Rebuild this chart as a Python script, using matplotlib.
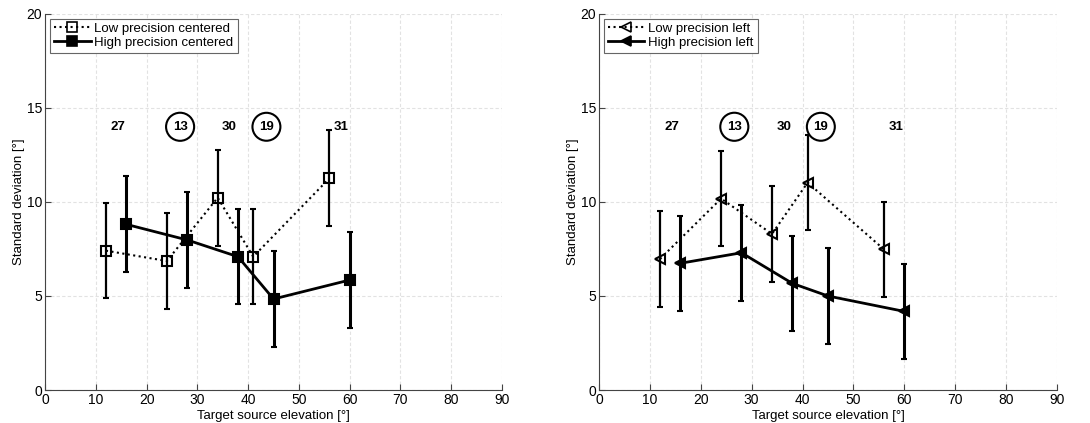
import matplotlib
matplotlib.use("Agg")
import matplotlib.pyplot as p
from matplotlib.lines import Line2D

font = {'size': 9, 'family': ['Liberation Sans', 'DejaVu Sans']}
matplotlib.rc('font', **font)

# elevation positions
low_x = [12, 24, 34, 41, 56]
high_x = [16, 28, 38, 45, 60]

# centered condition
low_c = [7.41, 6.86, 10.23, 7.09, 11.26]
low_c_err = [2.54, 2.55, 2.55, 2.54, 2.55]
high_c = [8.81, 7.98, 7.09, 4.84, 5.85]
high_c_err = [2.55, 2.54, 2.54, 2.54, 2.53]

# left condition
low_l = [6.97, 10.18, 8.30, 11.03, 7.48]
low_l_err = [2.54, 2.54, 2.54, 2.54, 2.53]
high_l = [6.74, 7.30, 5.67, 5.00, 4.18]
high_l_err = [2.54, 2.54, 2.54, 2.54, 2.54]

# subject counts per elevation group
count_x = [14.3, 26.6, 36.3, 43.6, 58.3]
count_labels = ["27", "13", "30", "19", "31"]
count_circled = [False, True, False, True, False]
count_y = 14.0

xticks = [0, 10, 20, 30, 40, 50, 60, 70, 80, 90]
yticks = [0, 5, 10, 15, 20]

MS = 7


def draw_panel(axis, lx, ly, lerr, hx, hy, herr, marker, low_label, high_label):
    axis.errorbar(lx, ly, yerr=lerr, color="black", linestyle=":", linewidth=1.5,
                  marker=marker, markersize=MS, markerfacecolor="none",
                  markeredgewidth=1.5, elinewidth=1.6, capsize=2, capthick=1.6,
                  zorder=3)
    axis.errorbar(hx, hy, yerr=herr, color="black", linestyle="-", linewidth=2,
                  marker=marker, markersize=MS, markerfacecolor="black",
                  markeredgewidth=1.5, elinewidth=2.2, capsize=2, capthick=2,
                  zorder=4)

    for x, t, c in zip(count_x, count_labels, count_circled):
        if c:
            axis.text(x, count_y, t, ha="center", va="center", fontweight="bold",
                      fontsize=9.5,
                      bbox=dict(boxstyle="circle,pad=0.5", fc="white", ec="black", lw=1.5))
        else:
            axis.text(x, count_y, t, ha="center", va="center", fontweight="bold",
                      fontsize=9.5)

    axis.set_xlim(0, 90)
    axis.set_ylim(0, 20)
    axis.set_xticks(xticks)
    axis.set_yticks(yticks)
    axis.grid(linestyle=(0, (3, 2)), color="#e2e2e2", linewidth=0.8)
    axis.set_axisbelow(True)
    for s in ["top", "right"]:
        axis.spines[s].set_visible(False)
    for s in ["left", "bottom"]:
        axis.spines[s].set_color("#444444")
    axis.tick_params(direction="in", length=4, color="#444444", labelsize=10, pad=2)
    axis.set_xlabel("Target source elevation [°]", labelpad=2, fontsize=9.5)
    axis.set_ylabel("Standard deviation [°]", labelpad=1, fontsize=9.5)

    handles = [
        Line2D([], [], color="black", linestyle=":", linewidth=1.5, marker=marker,
               markersize=MS, markerfacecolor="none", markeredgewidth=1.2),
        Line2D([], [], color="black", linestyle="-", linewidth=2, marker=marker,
               markersize=MS, markerfacecolor="black", markeredgewidth=1.2),
    ]
    leg = axis.legend(handles, [low_label, high_label], loc="upper left", fancybox=False,
                      edgecolor="#666666", framealpha=1, borderaxespad=0.35,
                      handlelength=2.8, handletextpad=0.3, borderpad=0.3,
                      labelspacing=0.15, fontsize=9.5)
    leg.get_frame().set_linewidth(0.8)


fig = p.figure(figsize=(10.9, 4.23), dpi=100)
ax1 = fig.add_axes([0.0413, 0.078, 0.4193, 0.889])
ax2 = fig.add_axes([0.5495, 0.078, 0.4202, 0.889])

draw_panel(ax1, low_x, low_c, low_c_err, high_x, high_c, high_c_err, "s",
           "Low precision centered", "High precision centered")
draw_panel(ax2, low_x, low_l, low_l_err, high_x, high_l, high_l_err, "<",
           "Low precision left", "High precision left")

fig.savefig("out.png", dpi=100)
